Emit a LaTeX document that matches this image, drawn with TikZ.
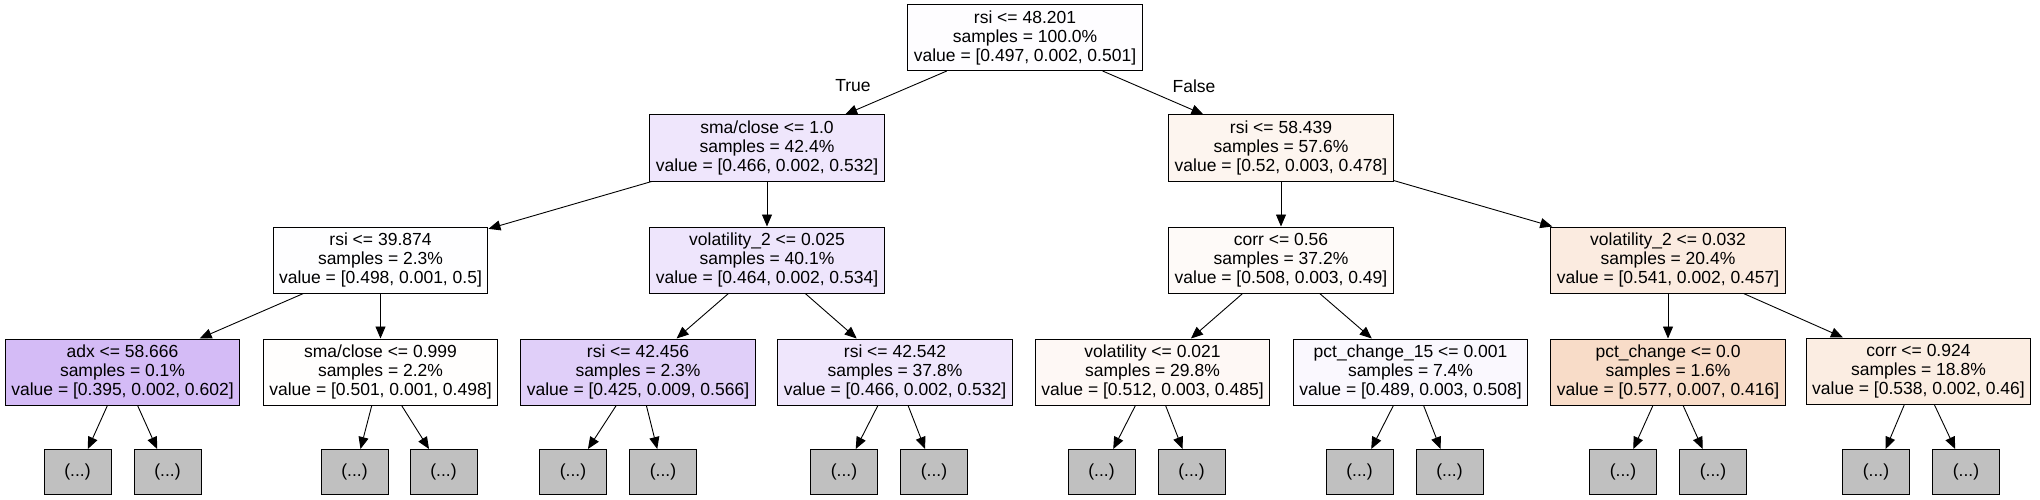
\documentclass[tikz,border=0pt]{standalone}
\usepackage{fontspec}
\setmainfont{Liberation Sans}
\usetikzlibrary{arrows.meta}

% fill colours of the split boxes
\definecolor{cRoot}{RGB}{254,253,255}
\definecolor{cSmaA}{RGB}{239,230,252}
\definecolor{cRsiB}{RGB}{253,245,239}
\definecolor{cRsiC}{RGB}{254,254,255}
\definecolor{cVolA}{RGB}{238,229,252}
\definecolor{cCorrA}{RGB}{254,250,248}
\definecolor{cVolB}{RGB}{251,235,224}
\definecolor{cAdx}{RGB}{212,187,246}
\definecolor{cSmaB}{RGB}{255,254,253}
\definecolor{cRsiD}{RGB}{224,207,249}
\definecolor{cRsiE}{RGB}{239,230,252}
\definecolor{cVolC}{RGB}{254,248,245}
\definecolor{cPctA}{RGB}{250,248,254}
\definecolor{cPctB}{RGB}{248,220,200}
\definecolor{cCorrB}{RGB}{251,237,226}
\definecolor{leafgray}{RGB}{192,192,192}

\tikzset{
  splitbox/.style={draw=black, line width=1pt, align=center, inner xsep=6pt,
    minimum height=66pt, font=\fontsize{17.5}{19}\selectfont},
  leafbox/.style={draw=black, line width=1pt, fill=leafgray, minimum width=67pt,
    minimum height=45pt, font=\fontsize{17.5}{19}\selectfont},
  treearrow/.style={-{Triangle[length=12pt,width=10pt]}, line width=0.9pt},
  elabel/.style={font=\fontsize{17.5}{19}\selectfont}
}

\begin{document}
\begin{tikzpicture}[x=1pt, y=-1pt]
  \useasboundingbox (0,0) rectangle (2040,500);

  % Root of the tree
  \node[splitbox, fill=cRoot] (root) at (1025,37.5)
    {rsi <= 48.201\\samples = 100.0\%\\value = [0.497, 0.002, 0.501]};

  % First level
  \node[splitbox, fill=cSmaA] (smaA) at (767,148)
    {sma/close <= 1.0\\samples = 42.4\%\\value = [0.466, 0.002, 0.532]};
  \node[splitbox, fill=cRsiB] (rsiB) at (1281,148)
    {rsi <= 58.439\\samples = 57.6\%\\value = [0.52, 0.003, 0.478]};

  % Second level
  \node[splitbox, fill=cRsiC] (rsiC) at (380.5,260)
    {rsi <= 39.874\\samples = 2.3\%\\value = [0.498, 0.001, 0.5]};
  \node[splitbox, fill=cVolA] (volA) at (767,260)
    {volatility\_2 <= 0.025\\samples = 40.1\%\\value = [0.464, 0.002, 0.534]};
  \node[splitbox, fill=cCorrA] (corrA) at (1281,260)
    {corr <= 0.56\\samples = 37.2\%\\value = [0.508, 0.003, 0.49]};
  \node[splitbox, fill=cVolB] (volB) at (1668,260)
    {volatility\_2 <= 0.032\\samples = 20.4\%\\value = [0.541, 0.002, 0.457]};

  % Third level
  \node[splitbox, fill=cAdx] (adx) at (122.5,372)
    {adx <= 58.666\\samples = 0.1\%\\value = [0.395, 0.002, 0.602]};
  \node[splitbox, fill=cSmaB] (smaB) at (380.5,372)
    {sma/close <= 0.999\\samples = 2.2\%\\value = [0.501, 0.001, 0.498]};
  \node[splitbox, fill=cRsiD] (rsiD) at (638,372)
    {rsi <= 42.456\\samples = 2.3\%\\value = [0.425, 0.009, 0.566]};
  \node[splitbox, fill=cRsiE] (rsiE) at (895,372)
    {rsi <= 42.542\\samples = 37.8\%\\value = [0.466, 0.002, 0.532]};
  \node[splitbox, fill=cVolC] (volC) at (1152.5,372)
    {volatility <= 0.021\\samples = 29.8\%\\value = [0.512, 0.003, 0.485]};
  \node[splitbox, fill=cPctA] (pctA) at (1410.5,372)
    {pct\_change\_15 <= 0.001\\samples = 7.4\%\\value = [0.489, 0.003, 0.508]};
  \node[splitbox, fill=cPctB] (pctB) at (1668,372)
    {pct\_change <= 0.0\\samples = 1.6\%\\value = [0.577, 0.007, 0.416]};
  \node[splitbox, fill=cCorrB] (corrB) at (1918.5,371)
    {corr <= 0.924\\samples = 18.8\%\\value = [0.538, 0.002, 0.46]};

  % Edges between the split boxes
  \draw[treearrow] (root) -- (smaA);
  \draw[treearrow] (root) -- (rsiB);
  \draw[treearrow] (smaA) -- (rsiC);
  \draw[treearrow] (smaA) -- (volA);
  \draw[treearrow] (rsiB) -- (corrA);
  \draw[treearrow] (rsiB) -- (volB);
  \draw[treearrow] (rsiC) -- (adx);
  \draw[treearrow] (rsiC) -- (smaB);
  \draw[treearrow] (volA) -- (rsiD);
  \draw[treearrow] (volA) -- (rsiE);
  \draw[treearrow] (corrA) -- (volC);
  \draw[treearrow] (corrA) -- (pctA);
  \draw[treearrow] (volB) -- (pctB);
  \draw[treearrow] (volB) -- (corrB);

  % True / False labels under the root
  \node[elabel] (ltrue) at (853,86) {True};
  \node[elabel] (lfalse) at (1194,86) {False};

  % Truncated leaves
  \foreach \p/\xa/\xb in {adx/77.5/167.5, smaB/354.5/443.5, rsiD/573/663,
      rsiE/844/934, volC/1101.5/1191.5, pctA/1359.5/1449.5,
      pctB/1623/1713, corrB/1876/1966} {
    \node[leafbox] (\p-l) at (\xa,472) {(...)};
    \node[leafbox] (\p-r) at (\xb,472) {(...)};
    \draw[treearrow] (\p) -- (\p-l);
    \draw[treearrow] (\p) -- (\p-r);
  }
\end{tikzpicture}
\end{document}
